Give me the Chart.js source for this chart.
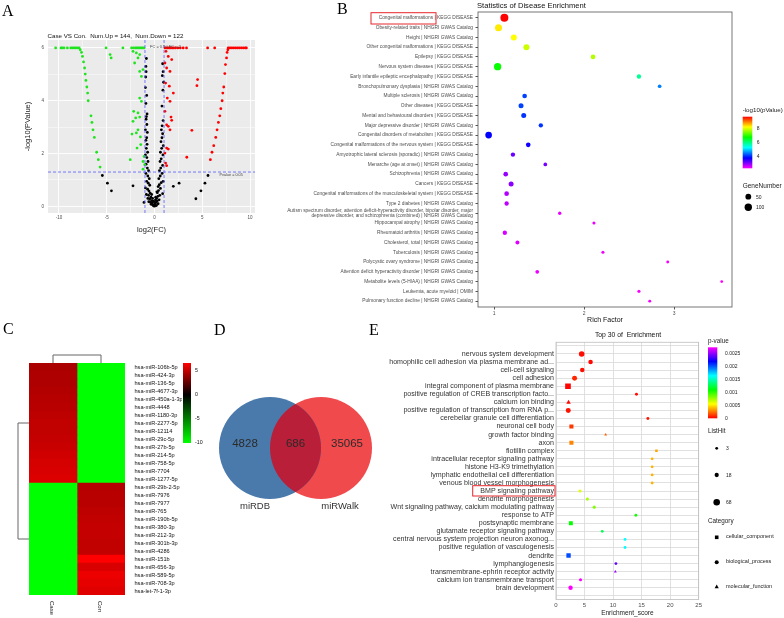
<!DOCTYPE html>
<html>
<head>
<meta charset="utf-8">
<title>Figure</title>
<script src="https://cdn.jsdelivr.net/npm/chart.js@4.4.1/dist/chart.umd.min.js"></script>
<style>
  body { margin: 0; background: #fff; }
  #page { position: relative; width: 784px; height: 618px; overflow: hidden; font-family: "Liberation Sans", Arial, sans-serif; }
  #page canvas { position: absolute; }
  .t { position: absolute; white-space: pre; line-height: 1; color: #222; }
  .big { font-family: "Liberation Serif", "Times New Roman", serif; font-size: 16px; color: #000; }
</style>
</head>
<body>
<div id="page">
  <canvas id="volcano" width="262" height="215" style="left:0;top:30px"></canvas>
  <canvas id="disease" width="475" height="326" style="left:262px;top:0"></canvas>
  <canvas id="heat" width="182" height="278" style="left:0;top:340px"></canvas>
  <!-- bubble charts reserve room for their radius, so this canvas is one radius larger on every side -->
  <canvas id="venn" width="292" height="232" style="left:149px;top:337px"></canvas>
  <canvas id="go" width="332" height="282" style="left:372px;top:336px"></canvas>
  <canvas id="deco" width="784" height="618" style="left:0;top:0"></canvas>
</div>
<script>
// ---- A: volcano plot ----
const volcanoTitle = 'Case VS Con.  Num.Up = 144,  Num.Down = 122';
const downPts = [
  [-10.35,6],[-9.79,6],[-9.65,6],[-9.47,6],[-9.12,6],[-8.77,6],[-8.59,6],[-8.42,6],[-8.24,6],[-8.06,6],[-7.89,6],
  [-7.78,5.93],[-7.64,5.83],[-7.54,5.68],[-7.43,5.47],[-7.32,5.24],[-7.25,5.01],[-7.18,4.77],[-7.08,4.52],[-7.0,4.29],
  [-6.94,4.0],[-6.65,3.43],[-6.55,3.18],[-6.44,2.9],[-6.3,2.61],[-6.06,2.05],[-5.88,1.77],[-5.7,1.49],
  [-5.07,6],[-4.65,5.75],[-4.54,5.62],[-3.31,6],[-2.4,6],[-2.2,6],[-2.0,6],[-1.85,6],[-1.7,6],[-1.55,6],[-1.4,6],
  [-1.25,6],[-1.1,6],[-2.25,5.87],[-1.9,5.81],[-1.55,5.75],[-1.73,5.62],[-2.08,5.43],[-1.55,5.11],[-1.2,5.18],
  [-1.37,4.92],[-1.55,4.1],[-1.37,3.98],[-2.18,3.6],[-1.73,3.54],[-1.97,3.35],[-1.55,3.38],[-2.25,3.22],[-1.73,2.9],
  [-1.9,2.78],[-1.48,2.63],[-2.36,2.74],[-1.83,2.21],[-1.44,2.34],[-2.54,1.77],[-1.2,1.7],[-1.02,1.58],[-1.2,1.41],[-1.09,1.89]
];
const upPts = [
  [1.1,6],[1.25,6],[1.4,6],[1.55,6],[1.7,6],[1.85,6],[2.0,6],[2.2,6],[2.45,6],[2.7,6],[3.0,6],[3.35,6],[5.56,6],[6.3,6],
  [7.71,6],[7.9,6],[8.1,6],[8.3,6],[8.5,6],[8.7,6],[8.9,6],[9.1,6],[9.3,6],[9.5,6],[9.62,6],
  [7.68,5.93],[7.6,5.83],[7.54,5.62],[7.43,5.37],[7.36,5.03],[7.25,4.52],[7.15,4.29],[7.08,4.0],[6.94,3.7],[6.83,3.43],
  [6.69,3.18],[6.55,2.9],[6.41,2.61],[6.2,2.3],[6.02,2.05],[5.85,1.77],
  [4.51,4.8],[4.44,4.57],[3.91,2.88],[3.38,1.86],[1.2,5.87],[1.44,5.68],[1.8,5.56],[1.09,5.43],[1.27,5.24],[1.62,5.11],
  [1.16,4.67],[1.55,4.55],[1.97,4.29],[1.34,4.1],[1.62,3.98],[1.09,3.6],[1.73,3.38],[1.8,3.26],[1.27,3.09],[1.44,3.03],
  [1.62,2.9],[1.27,2.21],[1.44,2.17],[1.09,2.02],[1.27,1.54],[1.16,1.64]
];
const flatPts = [
  [-0.85,5.6],[-0.9,5.3],[-0.88,5.1],[-0.92,4.9],[-0.95,4.5],[-0.82,4.2],[-0.9,3.9],[-0.78,3.5],[-0.85,3.4],[-0.88,3.3],
  [-0.8,3.1],[-0.95,2.9],[-0.75,2.8],[-0.82,2.6],[-0.9,2.5],[-0.78,2.35],[-0.86,2.2],[-0.72,2.05],[-0.95,1.95],[-0.8,1.85],
  [-0.68,1.7],[-0.88,1.6],[-0.75,1.45],[-0.62,1.35],[-0.9,1.25],[-0.7,1.15],[-0.55,1.05],[-0.82,0.95],[-0.65,0.88],[-0.5,0.8],
  [-0.95,0.7],[-0.72,0.65],[-0.58,0.58],[-0.45,0.5],[-0.85,0.45],[-0.62,0.42],[-0.38,0.35],[-0.7,0.3],[-0.5,0.28],[-0.3,0.22],
  [-0.6,0.18],[-0.42,0.15],[-0.25,0.12],[-0.35,0.08],[-0.18,0.05],[-0.1,0.02],
  [0.85,5.4],[0.9,5.1],[0.82,4.95],[0.95,4.7],[0.88,4.4],[0.78,3.8],[0.9,3.25],[0.8,3.05],[0.72,2.9],[0.85,2.75],
  [0.78,2.6],[0.68,2.45],[0.92,2.3],[0.75,2.2],[0.62,2.05],[0.88,1.95],[0.7,1.8],[0.58,1.7],[0.85,1.55],[0.65,1.45],
  [0.52,1.35],[0.8,1.25],[0.6,1.15],[0.45,1.05],[0.9,0.95],[0.7,0.9],[0.5,0.82],[0.38,0.75],[0.62,0.68],[0.42,0.6],
  [0.3,0.52],[0.85,0.48],[0.55,0.42],[0.35,0.38],[0.22,0.3],[0.48,0.25],[0.28,0.2],[0.15,0.15],[0.38,0.1],[0.08,0.06],
  [0.2,0.03],[0,0.01],[-0.2,0.3],[0.1,0.25],[-0.05,0.18],[0.05,0.1],[-0.15,0.2],[0.12,0.35],[-0.3,0.45],[0.25,0.55],
  [-5.46,1.17],[-4.93,0.88],[-4.51,0.59],[5.6,1.17],[5.28,0.88],[4.86,0.59],[4.33,0.29],[-2.25,0.78],[-1.1,0.15],[1.97,0.76],[2.57,0.88]
];
const fcCut = [-1, 1];
const pCut = 0.05;

// ---- B: disease enrichment ----
const diseaseTerms = [
  'Congenital malformations | KEGG DISEASE',
  'Obesity-related traits | NHGRI GWAS Catalog',
  'Height | NHGRI GWAS Catalog',
  'Other congenital malformations | KEGG DISEASE',
  'Epilepsy | KEGG DISEASE',
  'Nervous system diseases | KEGG DISEASE',
  'Early infantile epileptic encephalopathy | KEGG DISEASE',
  'Bronchopulmonary dysplasia | NHGRI GWAS Catalog',
  'Multiple sclerosis | NHGRI GWAS Catalog',
  'Other diseases | KEGG DISEASE',
  'Mental and behavioural disorders | KEGG DISEASE',
  'Major depressive disorder | NHGRI GWAS Catalog',
  'Congenital disorders of metabolism | KEGG DISEASE',
  'Congenital malformations of the nervous system | KEGG DISEASE',
  'Amyotrophic lateral sclerosis (sporadic) | NHGRI GWAS Catalog',
  'Menarche (age at onset) | NHGRI GWAS Catalog',
  'Schizophrenia | NHGRI GWAS Catalog',
  'Cancers | KEGG DISEASE',
  'Congenital malformations of the musculoskeletal system | KEGG DISEASE',
  'Type 2 diabetes | NHGRI GWAS Catalog',
  ['Autism spectrum disorder, attention deficit-hyperactivity disorder, bipolar disorder, major',
   'depressive disorder, and schizophrenia (combined) | NHGRI GWAS Catalog'],
  'Hippocampal atrophy | NHGRI GWAS Catalog',
  'Rheumatoid arthritis | NHGRI GWAS Catalog',
  'Cholesterol, total | NHGRI GWAS Catalog',
  'Tuberculosis | NHGRI GWAS Catalog',
  'Polycystic ovary syndrome | NHGRI GWAS Catalog',
  'Attention deficit hyperactivity disorder | NHGRI GWAS Catalog',
  'Metabolite levels (5-HIAA) | NHGRI GWAS Catalog',
  'Leukemia, acute myeloid | OMIM',
  'Pulmonary function decline | NHGRI GWAS Catalog'
];
const richFactor = [1.115,1.05,1.22,1.36,2.10,1.04,2.61,2.84,1.34,1.30,1.33,1.52,0.94,1.38,1.21,1.57,1.13,1.19,1.14,1.14,
                    1.73,2.11,1.12,1.26,2.21,2.93,1.48,3.53,2.61,2.73];
const negLogP = [9.6,8.24,8.12,7.82,7.68,6.69,5.78,4.42,4.05,4.05,3.98,3.98,3.68,3.61,3.06,2.99,2.82,2.89,2.64,2.57,
                 2.32,2.32,2.45,2.4,2.27,2.25,2.3,2.2,2.22,2.25];
const geneNumber = [123,86,55,55,24,98,19,10,24,31,31,19,75,24,19,10,24,31,24,19,6,4,19,14,4,3,10,2,4,3];
const geneLegend = [50, 100];

// ---- C: heatmap ----
const mirnas = ['hsa-miR-106b-5p','hsa-miR-424-3p','hsa-miR-136-5p','hsa-miR-4677-3p','hsa-miR-450a-1-3p','hsa-miR-4448',
  'hsa-miR-1180-3p','hsa-miR-2277-5p','hsa-miR-12114','hsa-miR-29c-5p','hsa-miR-27b-5p','hsa-miR-214-5p','hsa-miR-758-5p',
  'hsa-miR-7704','hsa-miR-1277-5p','hsa-miR-29b-2-5p','hsa-miR-7976','hsa-miR-7977','hsa-miR-765','hsa-miR-190b-5p',
  'hsa-miR-380-3p','hsa-miR-212-3p','hsa-miR-301b-3p','hsa-miR-4286','hsa-miR-151b','hsa-miR-656-3p','hsa-miR-589-5p',
  'hsa-miR-708-3p','hsa-let-7f-1-3p'];
const caseExpr = [4.4,4.5,4.5,4.6,4.7,4.8,4.9,5.0,5.0,5.1,5.2,5.4,5.5,5.6,5.7,
                  -10,-10,-10,-10,-10,-10,-10,-10,-10,-10,-10,-10,-10,-10];
const conExpr = [-10,-10,-10,-10,-10,-10,-10,-10,-10,-10,-10,-10,-10,-10,-10,
                 4.66,4.8,4.8,4.9,5.0,5.1,5.1,5.0,5.0,6.6,5.6,6.1,5.95,5.8];
const heatCols = ['Case', 'Con'];
const heatTicks = [5, 0, -5, -10];

// ---- D: venn ----
const vennSets = ['miRDB', 'miRWalk'];
const vennCounts = [4828, 686, 35065];

// ---- E: GO enrichment ----
const goTerms = ['nervous system development','homophilic cell adhesion via plasma membrane ad...','cell-cell signaling',
  'cell adhesion','integral component of plasma membrane','positive regulation of CREB transcription facto...',
  'calcium ion binding','positive regulation of transcription from RNA p...','cerebellar granule cell differentiation',
  'neuronal cell body','growth factor binding','axon','flotillin complex','intracellular receptor signaling pathway',
  'histone H3-K9 trimethylation','lymphatic endothelial cell differentiation','venous blood vessel morphogenesis',
  'BMP signaling pathway','dendrite morphogenesis','Wnt signaling pathway, calcium modulating pathway','response to ATP',
  'postsynaptic membrane','glutamate receptor signaling pathway','central nervous system projection neuron axonog...',
  'positive regulation of vasculogenesis','dendrite','lymphangiogenesis','transmembrane-ephrin receptor activity',
  'calcium ion transmembrane transport','brain development'];
const enrichScore = [4.5,6.06,4.6,3.26,2.1,14.1,2.2,2.15,16.1,2.7,8.7,2.7,17.6,16.85,16.85,16.85,16.85,4.2,5.5,6.7,
                     14.0,2.6,8.1,12.1,12.1,2.2,10.5,10.4,4.3,2.55];
const pValue = [0.00003,0.00002,0.00003,0.00008,0.00001,0.00003,0.00002,0.00004,0.00005,0.00012,0.0002,0.00028,0.00035,
                0.00038,0.00038,0.00038,0.00038,0.0006,0.00072,0.00081,0.00104,0.00108,0.00126,0.00162,0.00162,0.002,
                0.00237,0.00248,0.0027,0.0027];
const listHit = [42,22,22,30,60,4,20,30,4,22,3,22,3,3,3,3,3,5,5,5,3,20,3,3,3,28,3,3,5,20];
const goCategory = ['biological_process','biological_process','biological_process','biological_process','cellular_component',
  'biological_process','molecular_function','biological_process','biological_process','cellular_component',
  'molecular_function','cellular_component','cellular_component','biological_process','biological_process',
  'biological_process','biological_process','biological_process','biological_process','biological_process',
  'biological_process','cellular_component','biological_process','biological_process','biological_process',
  'cellular_component','biological_process','molecular_function','biological_process','biological_process'];
const categoryOrder = ['cellular_component', 'biological_process', 'molecular_function'];
const hitLegend = [3, 18, 68];
const pTicks = [0.0025, 0.002, 0.0015, 0.001, 0.0005, 0];

// ---------------------------------------------------------------
Chart.defaults.font.family = '"Liberation Sans", Arial, sans-serif';
Chart.defaults.animation = false;
Chart.defaults.responsive = false;
Chart.defaults.events = [];
Chart.defaults.plugins.legend.display = false;
Chart.defaults.plugins.tooltip.enabled = false;

const xy = pts => pts.map(([x, y]) => ({ x, y }));
const ticksAt = vals => s => { s.ticks = vals.map(v => ({ value: v })); };
const rainbow = t => `hsl(${Math.round(300 * Math.min(1, Math.max(0, t)))},100%,50%)`;
const maxOf = a => Math.max(...a), minOf = a => Math.min(...a);

function frame(color) {
  return { id: 'frame', afterDraw(c) {
    const a = c.chartArea, g = c.ctx;
    g.save(); g.strokeStyle = color; g.lineWidth = 0.8;
    g.strokeRect(a.left, a.top, a.right - a.left, a.bottom - a.top);
    g.restore();
  }};
}

// ---- A ----
const panelBg = { id: 'panelBg', beforeDraw(c) {
  const a = c.chartArea;
  c.ctx.save(); c.ctx.fillStyle = '#ebebeb';
  c.ctx.fillRect(a.left, a.top, a.right - a.left, a.bottom - a.top); c.ctx.restore();
}};
const guides = { id: 'guides', afterDatasetsDraw(c) {
  const { ctx, chartArea: a, scales: { x, y } } = c;
  ctx.save();
  ctx.setLineDash([3, 2]); ctx.strokeStyle = '#5a5aff'; ctx.lineWidth = 0.8;
  fcCut.forEach(v => {
    const px = x.getPixelForValue(v);
    ctx.beginPath(); ctx.moveTo(px, a.top); ctx.lineTo(px, a.bottom); ctx.stroke();
  });
  const py = y.getPixelForValue(-Math.log10(pCut));
  ctx.beginPath(); ctx.moveTo(a.left, py); ctx.lineTo(a.right, py); ctx.stroke();
  ctx.setLineDash([]);
  ctx.fillStyle = '#444'; ctx.textBaseline = 'middle';
  ctx.font = '4px "Liberation Sans"';
  ctx.fillText(`FC = ${2 ** fcCut[0]} | FC = ${2 ** fcCut[1]}`, x.getPixelForValue(fcCut[0]) + 5, y.getPixelForValue(6) - 1.5);
  ctx.font = '3.8px "Liberation Sans"';
  ctx.fillText(`Pvalue = ${pCut}`, x.getPixelForValue(6.8), py + 3);
  ctx.restore();
}};
const minorW = major => c => (c.tick && c.tick.value % major === 0) ? 0.9 : 0.45;

new Chart(document.getElementById('volcano'), {
  type: 'scatter',
  data: { datasets: [
    { data: xy(downPts), backgroundColor: '#1fe41f', pointRadius: 1.4, borderWidth: 0 },
    { data: xy(upPts), backgroundColor: '#ff0000', pointRadius: 1.4, borderWidth: 0 },
    { data: xy(flatPts), backgroundColor: '#000000', pointRadius: 1.4, borderWidth: 0 }
  ]},
  options: {
    layout: { padding: { top: 10, right: 7, left: 0, bottom: 0 } },
    scales: {
      x: {
        type: 'linear', min: -11.15, max: 10.52,
        afterBuildTicks: ticksAt([-10, -7.5, -5, -2.5, 0, 2.5, 5, 7.5, 10]),
        afterFit: s => { s.height = 32; },
        grid: { color: '#ffffff', lineWidth: minorW(5), drawTicks: false },
        border: { display: false },
        ticks: { font: { size: 4.5 }, color: '#4d4d4d', padding: 2.5, maxRotation: 0, autoSkip: false,
                 callback: v => (v % 5 === 0 ? v : '') },
        title: { display: true, text: 'log2(FC)', font: { size: 7.5 }, color: '#222', padding: { top: 0, bottom: 10.5 } }
      },
      y: {
        type: 'linear', min: -0.25, max: 6.3,
        afterBuildTicks: ticksAt([0, 1, 2, 3, 4, 5, 6]),
        afterFit: s => { s.width = 48; },
        grid: { color: '#ffffff', lineWidth: minorW(2), drawTicks: false },
        border: { display: false },
        ticks: { font: { size: 4.5 }, color: '#4d4d4d', padding: 4, autoSkip: false,
                 callback: v => (v % 2 === 0 ? v : '') },
        title: { display: true, text: '-log10(PValue)', font: { size: 7.5 }, color: '#222', padding: { top: 23, bottom: 0 } }
      }
    }
  },
  plugins: [panelBg, guides]
});

// ---- B ----
const lpMax = maxOf(negLogP), lpMin = minOf(negLogP);
const lpColor = v => rainbow((lpMax - v) / (lpMax - lpMin));
const geneR = n => 1 + 0.27 * Math.sqrt(n);

new Chart(document.getElementById('disease'), {
  type: 'scatter',
  data: { datasets: [{
    data: richFactor.map((rf, i) => ({ x: rf, y: i })),
    backgroundColor: negLogP.map(lpColor),
    pointRadius: geneNumber.map(geneR),
    borderWidth: 0
  }]},
  options: {
    layout: { padding: { top: 12, right: 5, left: 0, bottom: 0 } },
    scales: {
      x: {
        type: 'linear', min: 0.822, max: 3.644,
        afterBuildTicks: ticksAt([1, 2, 3]),
        afterFit: s => { s.height = 19; },
        grid: { drawOnChartArea: false, tickLength: 2.5, color: '#555' },
        border: { display: false },
        ticks: { font: { size: 5 }, color: '#4d4d4d', padding: 1 },
        title: { display: true, text: 'Rich Factor', font: { size: 7 }, color: '#111', padding: { top: 0, bottom: 1.8 } }
      },
      y: {
        type: 'linear', reverse: true, min: -0.6, max: 29.6,
        afterBuildTicks: ticksAt(diseaseTerms.map((_, i) => i)),
        afterFit: s => { s.width = 216; },
        grid: { drawOnChartArea: false, tickLength: 2.5, color: '#555' },
        border: { display: false },
        ticks: { font: { size: 4.8 }, color: '#4d4d4d', padding: 2.5, autoSkip: false,
                 callback: v => diseaseTerms[v] }
      }
    }
  },
  plugins: [frame('#555')]
});

// ---- C ----
const hMax = maxOf(caseExpr.concat(conExpr)), hMin = minOf(caseExpr.concat(conExpr));
const heatColor = v => v >= 0 ? `rgb(${Math.round(255 * v / hMax)},0,0)` : `rgb(0,${Math.round(255 * v / hMin)},0)`;
const dendro = { id: 'dendro', afterDraw(c) {
  const { ctx, chartArea: a, scales: { x, y } } = c;
  ctx.save(); ctx.strokeStyle = '#666'; ctx.lineWidth = 1;
  const c0 = x.getPixelForValue(0.5), c1 = x.getPixelForValue(1.5), h = a.top - 8;
  ctx.beginPath(); ctx.moveTo(c0, a.top); ctx.lineTo(c0, h); ctx.lineTo(c1, h); ctx.lineTo(c1, a.top); ctx.stroke();
  // row clusters: rows high in Case vs rows high in Con
  const up = caseExpr.map((v, i) => v > 0 ? i : -1).filter(i => i >= 0);
  const dn = caseExpr.map((v, i) => v <= 0 ? i : -1).filter(i => i >= 0);
  const mid = ids => (y.getPixelForValue(ids[0]) + y.getPixelForValue(ids[ids.length - 1])) / 2;
  const yu = mid(up), yd = mid(dn), lx = a.left - 11;
  ctx.beginPath(); ctx.moveTo(a.left, yu); ctx.lineTo(lx, yu); ctx.lineTo(lx, yd); ctx.lineTo(a.left, yd); ctx.stroke();
  ctx.restore();
}};
new Chart(document.getElementById('heat'), {
  type: 'bar',
  data: { labels: mirnas, datasets: heatCols.map((name, k) => ({
    label: name,
    data: mirnas.map(() => [k, k + 1]),
    backgroundColor: (k === 0 ? caseExpr : conExpr).map(heatColor),
    borderWidth: 0, grouped: false, barPercentage: 1, categoryPercentage: 1
  }))},
  options: {
    indexAxis: 'y',
    layout: { padding: { top: 23, left: 29, right: 0, bottom: 23 } },
    scales: {
      x: { type: 'linear', min: 0, max: 2, display: false },
      y: {
        position: 'right',
        afterFit: s => { s.width = 57; },
        grid: { display: false }, border: { display: false },
        ticks: { font: { size: 5.6 }, color: '#111', padding: 1.5, autoSkip: false }
      }
    }
  },
  plugins: [dendro]
});

// ---- D ----
const lens = { id: 'lens', afterDatasetsDraw(c) {
  const a = c.getDatasetMeta(0).data[0], b = c.getDatasetMeta(1).data[0];
  const ctx = c.ctx;
  ctx.save();
  ctx.beginPath(); ctx.arc(a.x, a.y, a.options.radius, 0, Math.PI * 2); ctx.clip();
  ctx.beginPath(); ctx.arc(b.x, b.y, b.options.radius, 0, Math.PI * 2);
  ctx.fillStyle = '#b91f38'; ctx.fill();
  ctx.restore();
  ctx.save();
  ctx.textAlign = 'center'; ctx.textBaseline = 'middle';
  ctx.fillStyle = '#2b2b2b'; ctx.font = '11.5px "Liberation Sans"';
  ctx.fillText(String(vennCounts[0]), a.x - 25, a.y - 4);
  ctx.fillText(String(vennCounts[1]), (a.x + b.x) / 2, a.y - 4);
  ctx.fillText(String(vennCounts[2]), b.x + 26, b.y - 4);
  ctx.fillStyle = '#333'; ctx.font = '9.5px "Liberation Sans"';
  ctx.fillText(vennSets[0], a.x - 15, a.y + 58);
  ctx.fillText(vennSets[1], b.x + 19, b.y + 58);
  ctx.restore();
}};
new Chart(document.getElementById('venn'), {
  type: 'bubble',
  data: { datasets: [
    { data: [{ x: 0, y: 0, r: 51 }], backgroundColor: '#4a7aab', borderWidth: 0, clip: false },
    { data: [{ x: 1, y: 0, r: 51 }], backgroundColor: '#f04a4d', borderWidth: 0, clip: false }
  ]},
  options: {
    layout: { padding: 0 },
    scales: { x: { display: false, min: -1.373, max: 2.353 }, y: { display: false, min: -1.1667, max: 1 } }
  },
  plugins: [lens]
});

// ---- E ----
const pMax = maxOf(pValue);
const pColor = p => rainbow(p / pMax);
const hitR = n => 0.9 + 0.29 * Math.sqrt(n);
const shapeOf = { cellular_component: 'rect', biological_process: 'circle', molecular_function: 'triangle' };
const shapeScale = { cellular_component: 1.27, biological_process: 1, molecular_function: 1.2 };

new Chart(document.getElementById('go'), {
  type: 'scatter',
  data: { datasets: [{
    data: enrichScore.map((s, i) => ({ x: s, y: i })),
    backgroundColor: pValue.map(pColor),
    pointStyle: goCategory.map(c => shapeOf[c]),
    pointRadius: listHit.map((n, i) => hitR(n) * shapeScale[goCategory[i]]),
    borderWidth: 0
  }]},
  options: {
    layout: { padding: { top: 5.7, right: 4, left: 0, bottom: 0 } },
    scales: {
      x: {
        type: 'linear', min: 0, max: 25,
        afterBuildTicks: ticksAt([0, 5, 10, 15, 20, 25]),
        afterFit: s => { s.height = 18.5; },
        grid: { color: '#d9d9d9', lineWidth: 0.8, drawTicks: false },
        border: { display: false },
        ticks: { font: { size: 6 }, color: '#4d4d4d', padding: 2 },
        title: { display: true, text: 'Enrichment_score', font: { size: 6.5 }, color: '#222', padding: { top: 0, bottom: 1.1 } }
      },
      y: {
        type: 'linear', reverse: true, min: -1.45, max: 30.45,
        afterBuildTicks: ticksAt(Array.from({ length: goTerms.length + 2 }, (_, i) => i - 1)),
        afterFit: s => { s.width = 184; },
        grid: { color: '#d9d9d9', lineWidth: 0.8, drawTicks: false },
        border: { display: false },
        ticks: { font: { size: 7.1 }, color: '#333', padding: 2, autoSkip: false,
                 callback: v => goTerms[v] || '' }
      }
    }
  },
  plugins: [frame('#bdbdbd')]
});

// ---- legends, labels, highlight boxes ----
const page = document.getElementById('page');
function txt(s, x, y, size, o = {}) {
  const d = document.createElement('div');
  d.className = 't' + (o.big ? ' big' : '');
  d.textContent = s;
  d.style.left = x + 'px'; d.style.top = y + 'px';
  if (size) d.style.fontSize = size + 'px';
  if (o.color) d.style.color = o.color;
  if (o.vertical) { d.style.writingMode = 'vertical-rl'; d.style.transform = 'translateX(-50%)'; }
  else d.style.transform = `translate(${o.align === 'center' ? '-50%' : '0'},-50%)`;
  page.appendChild(d);
}
const g = document.getElementById('deco').getContext('2d');
function vbar(x, y, w, h, stops) {
  const gr = g.createLinearGradient(0, y, 0, y + h);
  stops.forEach(([o, c]) => gr.addColorStop(o, c));
  g.fillStyle = gr; g.fillRect(x, y, w, h);
}
function dot(x, y, r, shape = 'circle') {
  g.fillStyle = '#000'; g.beginPath();
  if (shape === 'rect') g.rect(x - r * 0.9, y - r * 0.9, r * 1.8, r * 1.8);
  else if (shape === 'triangle') { g.moveTo(x, y - r * 1.2); g.lineTo(x + r * 1.04, y + r * 0.6); g.lineTo(x - r * 1.04, y + r * 0.6); g.closePath(); }
  else g.arc(x, y, r, 0, Math.PI * 2);
  g.fill();
}

// panel letters and titles
txt('A', 2, 10.5, 0, { big: true });
txt('B', 337, 9, 0, { big: true });
txt('C', 3, 329, 0, { big: true });
txt('D', 214, 330, 0, { big: true });
txt('E', 369, 330, 0, { big: true });
txt(volcanoTitle, 47.5, 35.5, 6.2, { color: '#111' });
txt('Statistics of Disease Enrichment', 477, 5.5, 7.6, { color: '#111' });
txt('Top 30 of  Enrichment', 628, 335, 6.8, { align: 'center', color: '#111' });

// B legend
const bTop = 116.7, bH = 51.6;
vbar(742.7, bTop, 9.6, bH, [0, 1, 2, 3, 4, 5].map(k => [k / 5, `hsl(${60 * k},100%,50%)`]));
txt('-log10(pValue)', 742.7, 110, 6.2);
[8, 6, 4].forEach(v => txt(String(v), 756.7, bTop + (lpMax - v) / (lpMax - lpMin) * bH, 5));
txt('GeneNumber', 742.7, 185.7, 6.5);
geneLegend.forEach((n, i) => { const yy = [196.7, 207.3][i]; dot(748.3, yy, geneR(n)); txt(String(n), 756, yy, 5); });

// C legend
const cTop = 363, cH = 80;
vbar(183, cTop, 8, cH, [[0, 'rgb(255,0,0)'], [hMax / (hMax - hMin), '#000'], [1, 'rgb(0,255,0)']]);
heatTicks.forEach(v => txt(String(v), 195, cTop + (hMax - v) / (hMax - hMin) * cH, 5.3, { color: '#111' }));
txt(heatCols[0], 52, 601, 6, { vertical: true });
txt(heatCols[1], 100, 601, 6, { vertical: true });

// E legend
const eTop = 347.3, eH = 71;
vbar(708, eTop, 9.3, eH, [0, 1, 2, 3, 4, 5].map(k => [k / 5, `hsl(${300 - 60 * k},100%,50%)`]));
txt('p-value', 708, 341, 6.3);
pTicks.forEach(p => txt(String(p), 725, eTop + (pMax - p) / pMax * eH, 5));
txt('ListHit', 708, 431, 6.3);
hitLegend.forEach((n, i) => { const yy = [448.3, 475, 502.3][i]; dot(716.7, yy, hitR(n)); txt(String(n), 726, yy, 5); });
txt('Category', 708, 521.3, 6.3);
categoryOrder.forEach((c, i) => { const yy = [537.3, 562.3, 587][i]; dot(716.7, yy, 2, shapeOf[c]); txt(c, 726, yy, 5.5); });

// highlight boxes
g.strokeStyle = '#e8262b'; g.lineWidth = 1;
g.strokeRect(371, 12.7, 65, 11.3);
g.strokeRect(472.7, 485.7, 82.3, 10.3);
</script>
</body>
</html>
